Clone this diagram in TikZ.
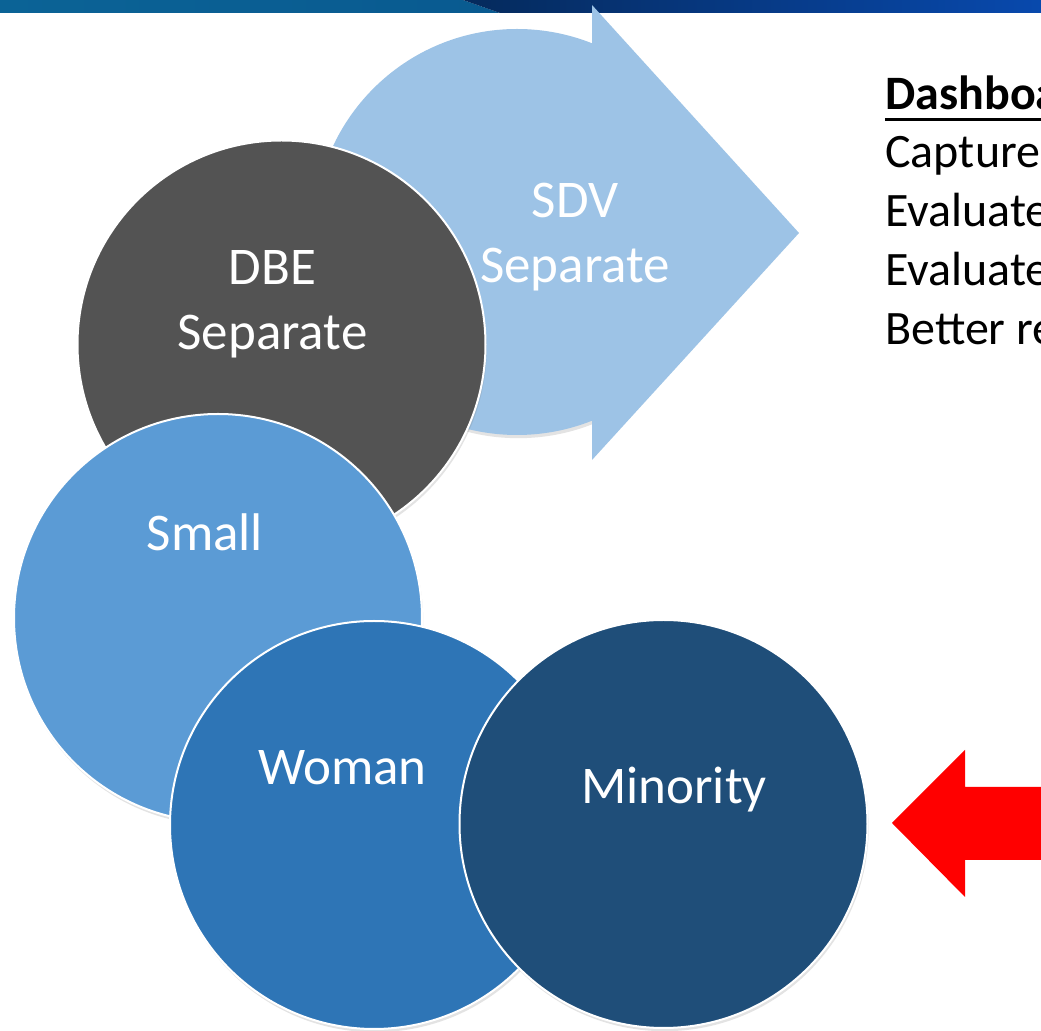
\documentclass[tikz,border=0pt]{standalone}
\usepackage{fontspec}
\setmainfont{Carlito}
\usetikzlibrary{shadows}
\definecolor{barteal}{HTML}{095A90}
\definecolor{barlight}{HTML}{0B6396}
\definecolor{bardark}{HTML}{052A5C}
\definecolor{barblue}{HTML}{0849AD}
\definecolor{sdvblue}{HTML}{9DC3E6}
\definecolor{dbegray}{HTML}{535353}
\definecolor{smallblue}{HTML}{5B9BD5}
\definecolor{womanblue}{HTML}{2E75B6}
\definecolor{minorityblue}{HTML}{1F4E79}

\begin{document}
\begin{tikzpicture}[x=0.5pt, y=-0.5pt,
    disc/.style={circle, draw=white, line width=1pt, minimum size=204pt, inner sep=0pt,
      drop shadow={opacity=0.22, shadow xshift=0.6pt, shadow yshift=-1.6pt}},
    disctext/.style={text=white, font=\fontsize{26.5}{32.5}\selectfont, align=center, inner sep=0pt, anchor=base},
    listtext/.style={font=\fontsize{24}{29.6}\selectfont, align=left, inner sep=0pt, anchor=base west}]
    \fill [white] (0,0) rectangle (1041,1031);
    \useasboundingbox (0,0) rectangle (1041,1031);

    % top bar
    \shade [left color=barlight, right color=barteal] (0,0) -- (463,0) -- (500,13) -- (0,13) -- cycle;
    \shade [left color=bardark, right color=barblue] (463,0) -- (1041,0) -- (1041,13) -- (500,13) -- cycle;

    % SDV arrow
    \node [disc, fill=sdvblue, draw=none, minimum size=203pt] (sdv) at (517,232) {};
    \fill [sdvblue] (592,5) -- (799,233) -- (592,460) -- cycle;
    \node [disctext] (sdvtext) at (575,283) {SDV\\Separate};

    \node [disc, fill=dbegray] (dbe) at (281.5,344.5) {};
    \node [disctext] (dbetext) at (272.5,350) {DBE\\Separate};

    \node [disc, fill=smallblue] (small) at (218,618) {};
    \node [disctext] (smalltext) at (205,551) {Small};

    \node [disc, fill=womanblue] (woman) at (374,825) {};
    \node [disctext] (womantext) at (342.5,785) {Woman};

    \node [disc, fill=minorityblue] (minority) at (663.5,824) {};
    \node [disctext] (minoritytext) at (674,804) {Minority};

    % red arrow
    \fill [red] (892,823) -- (965,750) -- (965,787) -- (1045,787) -- (1045,860) -- (965,860) -- (965,897) -- cycle;

    % right text
    \node [listtext, font=\fontsize{24}{29.6}\selectfont\bfseries] (dash) at (885,110) {Dashboa};
    \draw [line width=1.5pt] ([yshift=-5pt]dash.base west) -- ([yshift=-5pt]dash.base east);
    \node [listtext] (list) at (885,345) {Capture\\Evaluate\\Evaluate\\Better re};
\end{tikzpicture}
\end{document}
